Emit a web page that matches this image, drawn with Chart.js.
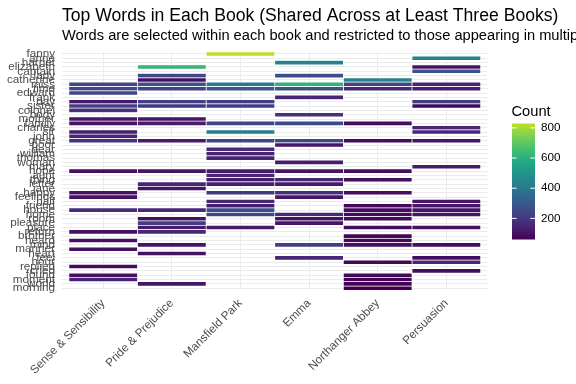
<!DOCTYPE html>
<html>
<head>
    <title>Top Words in Each Book</title>
    <script src="https://cdn.jsdelivr.net/npm/chart.js@4.4.1/dist/chart.umd.min.js"></script>
    <style>
        body { margin: 0; background: #fff; overflow: hidden; }
        .wrap { width: 576px; height: 384px; position: relative; }
    </style>
</head>
<body>
    <div class="wrap">
        <canvas id="heat"></canvas>
    </div>

    <script>
        // words, top to bottom
        const words = [
            'fanny', 'anne', 'harriet', 'elizabeth', 'captain', 'lady', 'catherine', 'miss',
            'time', 'edward', 'frank', 'day', 'sister', 'colonel', 'body', 'mother',
            'family', 'charles', 'sir', 'john', 'great', 'poor', 'dear', 'william',
            'thomas', 'woman', 'mary', 'hope', 'aunt', 'thing', 'letter', 'jane',
            'happy', 'feelings', 'half', 'friend', 'house', 'home', 'room', 'pleasure',
            'place', 'return', 'brother', 'heard', 'mind', 'manner', 'heart', 'feel',
            'hour', 'replied', 'cried', 'found', 'moment', 'world', 'morning'
        ];
        const books = ['Sense & Sensibility', 'Pride & Prejudice', 'Mansfield Park', 'Emma', 'Northanger Abbey', 'Persuasion'];

        // counts per book, same order as words (null = not a top word there)
        const sense = [
            null, null, null, null, null, null, null, 235,
            240, 230, null, 120, 210, 175, null, 110,
            100, null, 130, 150, 185, null, null, null,
            null, null, null, 95, null, null, null, null,
            105, 100, null, null, 170, null, null, null,
            null, 100, null, 100, null, 100, null, null,
            null, 90, null, 100, 140, null, null
        ];
        const pride = [
            null, null, null, 620, null, 250, 100, 280,
            230, null, null, 220, 200, null, null, 110,
            120, null, null, null, 120, null, null, null,
            null, null, null, 110, null, null, 150, 110,
            null, null, null, null, 160, null, 100, 210,
            120, 150, null, null, 110, null, 100, null,
            null, null, null, null, null, 110, null
        ];
        const mansfield = [
            829, null, null, null, null, null, null, 410,
            290, null, null, 210, 210, null, null, null,
            230, null, 420, null, 230, null, 170, 140,
            140, null, null, 120, 150, 120, 130, null,
            200, null, 150, 130, 260, 240, null, null,
            120, null, null, null, null, null, null, null,
            null, null, null, null, null, null, null
        ];
        const emma = [
            null, null, 440, null, null, 260, null, 610,
            280, null, 150, null, null, null, 180, null,
            250, null, null, null, 240, 110, null, null,
            null, 130, null, 110, null, 150, 120, null,
            170, 110, null, null, null, 170, 100, 110,
            null, null, null, null, 220, null, null, 150,
            null, null, null, null, null, null, null
        ];
        const northanger = [
            null, null, null, null, null, null, 440, 230,
            150, null, null, null, null, null, null, null,
            90, null, null, null, 90, null, null, null,
            null, null, null, 90, null, 90, null, null,
            90, null, null, 80, 85, 80, 80, null,
            90, null, 80, 80, 90, null, null, null,
            80, null, null, 75, 70, 65, 60
        ];
        const persuasion = [
            null, 440, null, 100, 280, null, null, 140,
            130, null, null, 210, 80, null, null, null,
            null, 150, 150, null, 110, null, null, null,
            null, null, 120, null, null, null, null, null,
            null, null, 110, 110, 110, 110, null, null,
            100, null, null, null, 90, null, null, 90,
            150, null, 90, null, null, null, null
        ];
        const legendTicks = [200, 400, 600, 800];

        const counts = [sense, pride, mansfield, emma, northanger, persuasion];
        const allVals = counts.flat().filter(v => v !== null);
        const lo = Math.min(...allVals);
        const hi = Math.max(...allVals);

        // viridis, scale uses the first 90% of it
        const VIR = ['#440154', '#482475', '#414487', '#355f8d', '#2a788e', '#21918c',
                     '#22a884', '#44bf70', '#7ad151', '#bddf26', '#fde725'];
        function hexRgb(h) {
            return [parseInt(h.slice(1, 3), 16), parseInt(h.slice(3, 5), 16), parseInt(h.slice(5, 7), 16)];
        }
        function viridis(t) {
            t = Math.max(0, Math.min(1, t));
            const p = t * 10;
            const i = Math.min(9, Math.floor(p));
            const f = p - i;
            const a = hexRgb(VIR[i]), b = hexRgb(VIR[i + 1]);
            const c = a.map((x, k) => Math.round(x + (b[k] - x) * f));
            return 'rgb(' + c.join(',') + ')';
        }
        function fillFor(v) {
            return viridis(0.9 * (v - lo) / (hi - lo));
        }

        const FONT = "'Liberation Sans', Arial, sans-serif";

        const datasets = counts.map((arr, j) => ({
            label: books[j],
            data: arr.map(v => v === null ? null : [j - 0.5, j + 0.5]),
            backgroundColor: ctx => {
                const v = arr[ctx.dataIndex];
                return v === null ? 'rgba(0,0,0,0)' : fillFor(v);
            },
            borderColor: '#ffffff',
            borderWidth: 0.7,
            borderSkipped: false,
            barPercentage: 1,
            categoryPercentage: 1,
            grouped: false
        }));

        // titles and colour bar
        const extras = {
            id: 'extras',
            afterDraw(chart) {
                const c = chart.ctx;
                const left = chart.chartArea.left;
                c.save();
                c.fillStyle = '#000';
                c.textAlign = 'left';
                c.textBaseline = 'alphabetic';
                c.font = '17.6px ' + FONT;
                c.fillText('Top Words in Each Book (Shared Across at Least Three Books)', left, 21);
                c.font = '14.67px ' + FONT;
                c.fillText('Words are selected within each book and restricted to those appearing in multiple books', left, 40);

                // legend
                const bx = 512, by = 123.5, bw = 23, bh = 116;
                c.fillText('Count', 511.5, 116);
                const g = c.createLinearGradient(0, by + bh, 0, by);
                for (let k = 0; k <= 30; k++) {
                    g.addColorStop(k / 30, viridis(0.9 * k / 30));
                }
                c.fillStyle = g;
                c.fillRect(bx, by, bw, bh);
                c.strokeStyle = '#ffffff';
                c.lineWidth = 1;
                c.font = '11.7px ' + FONT;
                c.textBaseline = 'middle';
                c.fillStyle = '#000';
                legendTicks.forEach(v => {
                    const y = by + (hi - v) / (hi - lo) * bh;
                    c.beginPath();
                    c.moveTo(bx, y); c.lineTo(bx + bw / 5, y);
                    c.moveTo(bx + bw, y); c.lineTo(bx + bw - bw / 5, y);
                    c.stroke();
                    c.fillText(String(v), 541, y);
                });
                c.restore();
            }
        };

        new Chart(document.getElementById('heat'), {
            type: 'bar',
            data: { labels: words, datasets: datasets },
            options: {
                indexAxis: 'y',
                responsive: true,
                maintainAspectRatio: false,
                animation: false,
                layout: { padding: { top: 51.8, right: 88.5, left: 0, bottom: 0 } },
                plugins: {
                    legend: { display: false },
                    tooltip: { enabled: false },
                    title: { display: false }
                },
                scales: {
                    x: {
                        type: 'linear',
                        min: -0.6,
                        max: 5.6,
                        afterBuildTicks: s => { s.ticks = books.map((b, i) => ({ value: i })); },
                        afterFit: s => { s.height = 93.6; },
                        grid: { color: '#ebebeb', lineWidth: 1, drawTicks: false },
                        border: { display: false },
                        ticks: {
                            autoSkip: false,
                            minRotation: 45,
                            maxRotation: 45,
                            padding: 6,
                            color: '#4d4d4d',
                            font: { family: FONT, size: 11.7 },
                            callback: v => books[v]
                        }
                    },
                    y: {
                        type: 'category',
                        offset: true,
                        afterFit: s => { s.width = 62; },
                        grid: { color: '#ebebeb', lineWidth: 1, drawTicks: false, offset: false },
                        border: { display: false },
                        ticks: {
                            autoSkip: false,
                            padding: 7,
                            color: '#4d4d4d',
                            font: { family: FONT, size: 11.7 }
                        }
                    }
                }
            },
            plugins: [extras]
        });
    </script>
</body>
</html>
